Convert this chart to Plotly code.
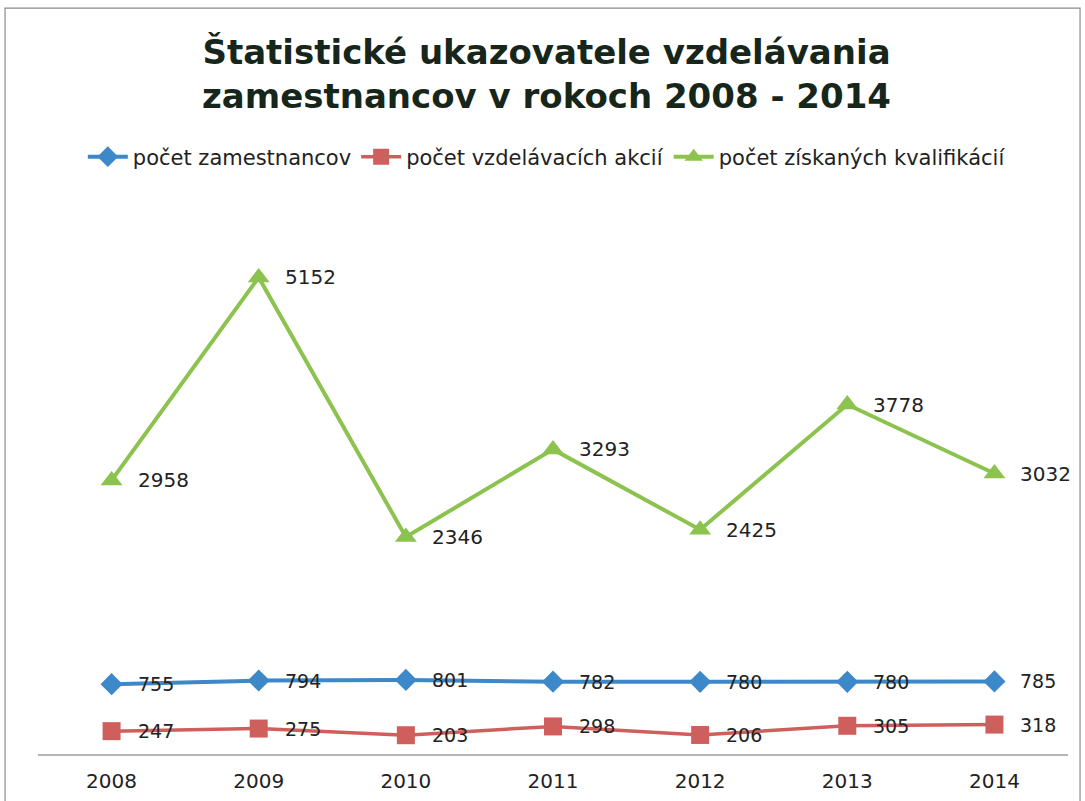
import plotly.graph_objects as go

years = ["2008", "2009", "2010", "2011", "2012", "2013", "2014"]
zamestnanci = [755, 794, 801, 782, 780, 780, 785]
akcie = [247, 275, 203, 298, 206, 305, 318]
kvalifikacie = [2958, 5152, 2346, 3293, 2425, 3778, 3032]

names = ["počet zamestnancov", "počet vzdelávacích akcií", "počet získaných kvalifikácií"]
colors = ["#3d88c8", "#cf5f5c", "#8cc24e"]
symbols = ["diamond", "square", "triangle-up"]
series = [zamestnanci, akcie, kvalifikacie]
msizes = [17, 18, 19]
lwidths = [4, 3.5, 4]

FONT = "DejaVu Sans, Verdana, sans-serif"

fig = go.Figure()
for s, n, c, sym, ms, lw in zip(series, names, colors, symbols, msizes, lwidths):
    fig.add_trace(go.Scatter(
        x=years, y=s, name=n, mode="lines+markers",
        line=dict(color=c, width=lw),
        marker=dict(symbol=sym, size=ms, color=c),
    ))

# data labels (category index used for x position)
for idx, s in enumerate(series):
    size = 20 if idx == 2 else 19
    for i, y in enumerate(s):
        fig.add_annotation(x=i, y=y, xref="x", yref="y", text=str(y), showarrow=False,
                           xanchor="left", yanchor="middle", xshift=24,
                           font=dict(family=FONT, size=size, color="#222"))

# title
fig.add_annotation(
    xref="paper", yref="paper", x=0.494, y=1.226, xanchor="center", yanchor="middle",
    text="<b>Štatistické ukazovatele vzdelávania<br>zamestnancov v rokoch 2008 - 2014</b>",
    showarrow=False,
    font=dict(family=FONT, size=34, color="#17261a"),
)

# chart frame
fig.add_shape(type="rect", xref="paper", yref="paper",
              x0=-0.032, x1=1.0117, y0=-0.2, y1=1.344,
              line=dict(color="#8a8a8a", width=1.2), fillcolor="rgba(0,0,0,0)", layer="below")

fig.update_layout(
    width=1085, height=801,
    paper_bgcolor="white", plot_bgcolor="white",
    margin=dict(l=38, r=17, t=199, b=47, autoexpand=False),
    legend=dict(orientation="h", x=0.494, xanchor="center", y=1.0757, yanchor="middle",
                font=dict(family=FONT, size=21, color="#222"),
                itemwidth=40, tracegroupgap=0),
    showlegend=True,
    xaxis=dict(type="category", range=[-0.5, 6.5], showgrid=False, zeroline=False,
               showline=True, linecolor="#b5b5b5", linewidth=1.5, ticks="",
               automargin=False, ticklabelstandoff=8,
               tickfont=dict(family=FONT, size=20, color="#222")),
    yaxis=dict(range=[0, 6000], visible=False, showgrid=False, zeroline=False),
)

fig.write_html("out.html", config={"displayModeBar": False},
               post_script="document.body.style.margin='0';")
